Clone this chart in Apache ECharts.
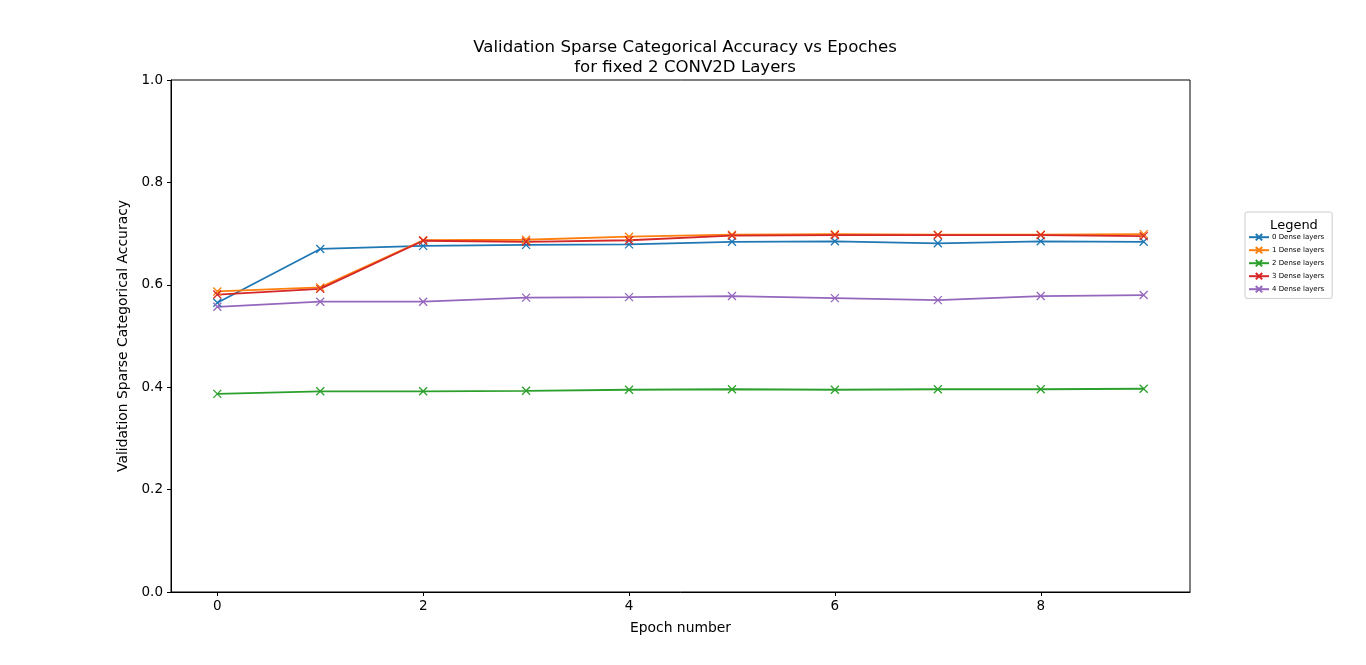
<!DOCTYPE html>
<html>
<head>
<meta charset="utf-8">
<script src="https://cdn.jsdelivr.net/npm/echarts@6/dist/echarts.min.js"></script>
<style>
  html, body { margin: 0; padding: 0; background: #fff; }
  #chart { width: 1366px; height: 665px; }
</style>
</head>
<body>
<div id="chart"></div>
<script>
var epochs = [0, 1, 2, 3, 4, 5, 6, 7, 8, 9];
var dense0 = [0.565, 0.670, 0.676, 0.678, 0.679, 0.684, 0.685, 0.681, 0.685, 0.684];
var dense1 = [0.587, 0.595, 0.687, 0.688, 0.694, 0.698, 0.699, 0.698, 0.698, 0.699];
var dense2 = [0.387, 0.392, 0.392, 0.393, 0.395, 0.396, 0.395, 0.396, 0.396, 0.397];
var dense3 = [0.581, 0.592, 0.686, 0.684, 0.687, 0.696, 0.697, 0.697, 0.697, 0.695];
var dense4 = [0.557, 0.567, 0.567, 0.575, 0.576, 0.578, 0.574, 0.570, 0.578, 0.580];
var seriesNames = ['0 Dense layers', '1 Dense layers', '2 Dense layers', '3 Dense layers', '4 Dense layers'];
var xTicks = [0, 2, 4, 6, 8];

var colors = ['#1f77b4', '#ff7f0e', '#2ca02c', '#d62728', '#9467bd'];
var allData = [dense0, dense1, dense2, dense3, dense4];
var font = 'DejaVu Sans';

var myChart = echarts.init(document.getElementById('chart'));

var series = allData.map(function (vals, i) {
    return {
        name: seriesNames[i],
        type: 'line',
        data: epochs.map(function (e, j) { return [e, vals[j]]; }),
        symbol: 'path://M0,0L10,10M10,0L0,10',
        symbolSize: 8,
        showSymbol: true,
        color: colors[i],
        lineStyle: { width: 1.8, color: colors[i] },
        itemStyle: { color: colors[i], borderColor: colors[i], borderWidth: 1.3 },
        animation: false
    };
});

var option = {
    backgroundColor: '#fff',
    textStyle: { fontFamily: font },
    title: [{
        text: 'Validation Sparse Categorical Accuracy vs Epoches\nfor fixed 2 CONV2D Layers',
        left: 680,
        top: 33,
        textAlign: 'center',
        textStyle: { fontFamily: font, fontSize: 16.6, fontWeight: 'normal', color: '#000', lineHeight: 20 }
    }, {
        text: 'Legend',
        left: 1289,
        top: 214,
        textAlign: 'center',
        textStyle: { fontFamily: font, fontSize: 13, fontWeight: 'normal', color: '#000' }
    }],
    legend: {
        orient: 'vertical',
        left: 1245,
        top: 212,
        width: 82,
        padding: [21, 8, 5, 3],
        borderColor: '#cccccc',
        borderWidth: 1,
        borderRadius: 2,
        itemWidth: 20,
        itemHeight: 8,
        itemGap: 4.6,
        data: seriesNames,
        textStyle: { fontFamily: font, fontSize: 7, color: '#000', padding: [0, 0, 0, -2] }
    },
    grid: {
        left: 171,
        right: 176,
        top: 80,
        bottom: 73,
        show: true,
        borderColor: '#000',
        borderWidth: 1,
        containLabel: false
    },
    xAxis: {
        type: 'value',
        min: -0.45,
        max: 9.45,
        name: 'Epoch number',
        nameLocation: 'middle',
        nameGap: 29,
        nameTextStyle: { fontFamily: font, fontSize: 13.9, color: '#000' },
        axisLine: { show: true, onZero: false, lineStyle: { color: '#000', width: 1 } },
        axisTick: { show: true, inside: false, length: 4, customValues: xTicks, lineStyle: { color: '#000' } },
        axisLabel: { customValues: xTicks, color: '#000', fontSize: 13.5, fontFamily: font, margin: 7 },
        splitLine: { show: false }
    },
    yAxis: {
        type: 'value',
        min: 0,
        max: 1,
        interval: 0.2,
        name: 'Validation Sparse Categorical Accuracy',
        nameLocation: 'middle',
        nameGap: 40,
        nameRotate: 90,
        nameTextStyle: { fontFamily: font, fontSize: 13.9, color: '#000' },
        axisLine: { show: true, onZero: false, lineStyle: { color: '#000', width: 1 } },
        axisTick: { show: true, inside: false, length: 4, lineStyle: { color: '#000' } },
        axisLabel: {
            color: '#000', fontSize: 13.5, fontFamily: font, margin: 8,
            formatter: function (v) { return v.toFixed(1); }
        },
        splitLine: { show: false }
    },
    series: series
};
myChart.setOption(option);
</script>
</body>
</html>
